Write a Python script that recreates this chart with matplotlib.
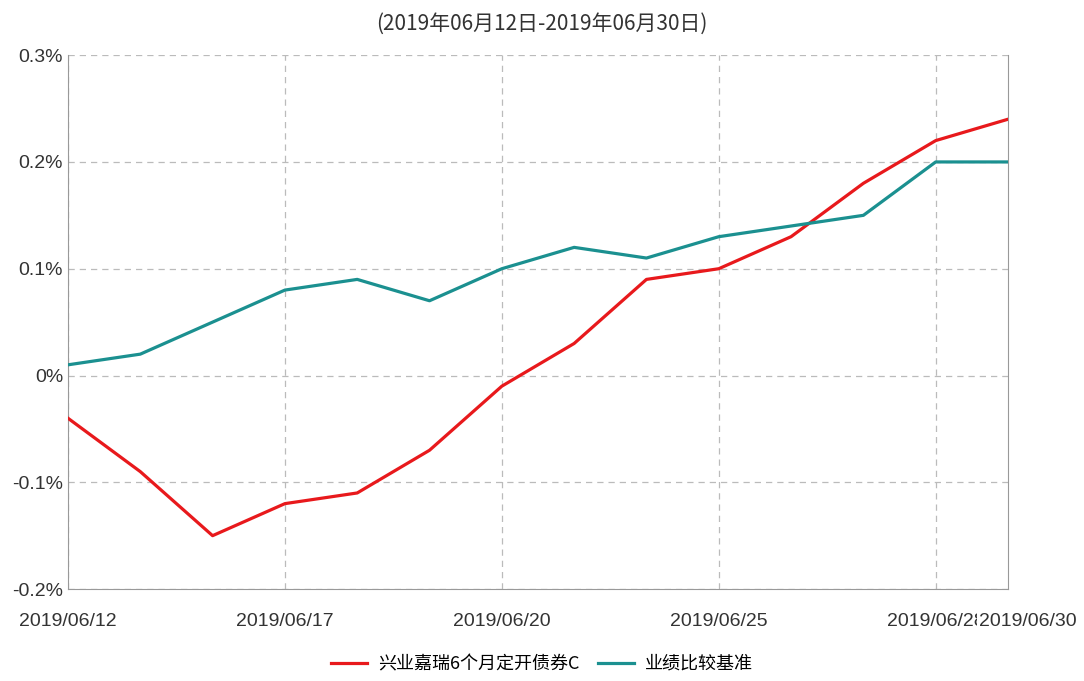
"""Fund vs benchmark cumulative return chart."""

import matplotlib
matplotlib.use("Agg")
import matplotlib.pyplot as plt
from matplotlib.ticker import FuncFormatter

# Data
dates = ["2019/06/12", "2019/06/13", "2019/06/14", "2019/06/17", "2019/06/18",
         "2019/06/19", "2019/06/20", "2019/06/21", "2019/06/24", "2019/06/25",
         "2019/06/26", "2019/06/27", "2019/06/28", "2019/06/30"]
fund = [-0.04, -0.09, -0.15, -0.12, -0.11, -0.07, -0.01, 0.03, 0.09, 0.10,
        0.13, 0.18, 0.22, 0.24]
bench = [0.01, 0.02, 0.05, 0.08, 0.09, 0.07, 0.10, 0.12, 0.11, 0.13,
         0.14, 0.15, 0.20, 0.20]
label_idx = [0, 3, 6, 9, 12]
fund_name = "兴业嘉瑞6个月定开债券C"
bench_name = "业绩比较基准"
title = "(2019年06月12日-2019年06月30日)"

cjk = ["Noto Sans CJK SC", "DejaVu Sans"]
narrow = ["Liberation Sans Narrow", "Liberation Sans", "DejaVu Sans"]
pad = 17

fig = plt.figure(figsize=(10.84, 6.81), dpi=100)
ax = fig.add_axes([0.0627, 0.135, 0.8672, 0.784])

x = list(range(len(dates)))
ax.plot(x, fund, color="#e8191c", lw=2.3, label=fund_name, zorder=3)
ax.plot(x, bench, color="#1b9090", lw=2.3, label=bench_name, zorder=3)

ax.set_xlim(0, len(dates) - 1)
ax.set_ylim(-0.2, 0.3)
ax.set_yticks([-0.2, -0.1, 0, 0.1, 0.2, 0.3])
ax.yaxis.set_major_formatter(
    FuncFormatter(lambda v, p: "0%" if abs(v) < 1e-9 else f"{v:.1f}%"))

ax.set_xticks(label_idx)
ax.set_xticklabels([dates[i] for i in label_idx])
ax.tick_params(axis="both", length=0, colors="#333333")
ax.tick_params(axis="x", pad=pad)
for t in ax.get_yticklabels() + ax.get_xticklabels():
    t.set_family(narrow)
    t.set_fontsize(14)

# Last date label sits over the previous one
ax.annotate(dates[-1], xy=(1, 0), xycoords="axes fraction",
            xytext=(14.5, -pad), textcoords="offset points", ha="center",
            va="top", fontsize=14, family=narrow, color="#333333",
            bbox=dict(boxstyle="square,pad=0.1", fc="white", ec="none"))

ax.grid(True, ls=(0, (5, 4)), color="#bbbbbb", lw=0.9)
for s in ["left", "bottom", "right"]:
    ax.spines[s].set_color("#999999")
ax.spines["top"].set_visible(False)

fig.text(0.5, 0.965, title, ha="center", va="center", fontsize=15,
         family=cjk, color="#333333")

fig.legend(loc="center", bbox_to_anchor=(0.5, 0.025), ncol=2, frameon=False,
           prop={"family": cjk, "size": 13}, handlelength=2.0,
           columnspacing=1.0, handletextpad=0.6)

fig.savefig("out.png", dpi=100)
